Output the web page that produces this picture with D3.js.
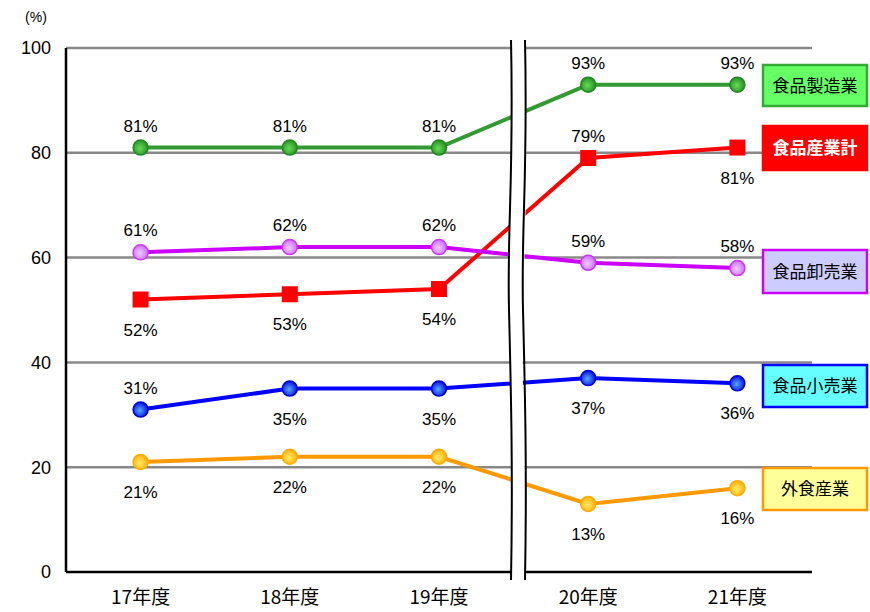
<!DOCTYPE html>
<html><head><meta charset="utf-8">
<script src="https://cdn.jsdelivr.net/npm/d3@7"></script>
<style>body{margin:0;background:#fff}svg{display:block}</style>
</head><body><svg id="c" width="870" height="612"></svg>
<script>
const categories = ["17年度","18年度","19年度","20年度","21年度"];
const seriesNames = ["食品製造業","食品産業計","食品卸売業","食品小売業","外食産業"];
const manufacturing = [81,81,81,93,93];
const total = [52,53,54,79,81];
const wholesale = [61,62,62,59,58];
const retail = [31,35,35,37,36];
const foodService = [21,22,22,13,16];
// label placement: 1 = above, -1 = below
const manufacturingPos = [1,1,1,1,1];
const totalPos = [-1,-1,-1,1,-1];
const wholesalePos = [1,1,1,1,1];
const retailPos = [1,-1,-1,-1,-1];
const foodServicePos = [-1,-1,-1,-1,-1];
const yTicks = [0,20,40,60,80,100];

const series = [
  {name:seriesNames[0], values:manufacturing, pos:manufacturingPos, color:"#339933", light:"#66dd55", dark:"#228822", marker:"circle", box:{y:65,h:41,fill:"#66ff66",stroke:"#33aa33",text:"#000",bold:false}},
  {name:seriesNames[1], values:total, pos:totalPos, color:"#ff0000", marker:"square", box:{y:126,h:44,fill:"#ff0000",stroke:"#ff0000",text:"#fff",bold:true}},
  {name:seriesNames[2], values:wholesale, pos:wholesalePos, color:"#cc00ff", light:"#f0ccff", dark:"#cc66ff", marker:"circle", box:{y:250,h:43,fill:"#ccccff",stroke:"#cc00ff",text:"#000",bold:false}},
  {name:seriesNames[3], values:retail, pos:retailPos, color:"#0000ff", light:"#55aaff", dark:"#0000dd", marker:"circle", box:{y:365,h:42,fill:"#66ffff",stroke:"#0000ff",text:"#000",bold:false}},
  {name:seriesNames[4], values:foodService, pos:foodServicePos, color:"#ff9900", light:"#ffee66", dark:"#ffaa00", marker:"circle", box:{y:468,h:42,fill:"#ffff99",stroke:"#ff9900",text:"#000",bold:false}}
];

const svg = d3.select("#c");
const L=66, R=812, T=48, B=572;
const x = d3.scalePoint().domain(categories).range([L,R]).padding(0.5);
const y = d3.scaleLinear().domain([0,100]).range([B,T]);

const defs = svg.append("defs");
series.forEach((s,i)=>{
  if(s.marker!=="circle") return;
  const g = defs.append("radialGradient").attr("id","g"+i).attr("cx","45%").attr("cy","55%").attr("r","60%");
  g.append("stop").attr("offset","0%").attr("stop-color",s.light);
  g.append("stop").attr("offset","100%").attr("stop-color",s.dark);
});

// gridlines
svg.append("g").selectAll("line").data(yTicks.filter(d=>d>0)).join("line")
  .attr("x1",L).attr("x2",R).attr("y1",d=>y(d)).attr("y2",d=>y(d))
  .attr("stroke","#888").attr("stroke-width",2.5);

// axes
svg.append("line").attr("x1",L).attr("x2",L).attr("y1",T).attr("y2",B).attr("stroke","#000").attr("stroke-width",2.5);
svg.append("line").attr("x1",L).attr("x2",R).attr("y1",B).attr("y2",B).attr("stroke","#000").attr("stroke-width",2.5);

svg.append("g").selectAll("text").data(yTicks).join("text")
  .attr("x",51).attr("y",d=>y(d)).attr("dy","0.36em").attr("text-anchor","end")
  .attr("font-family","Liberation Sans, Arial, sans-serif").attr("font-size",18).text(d=>d);
svg.append("text").attr("x",36).attr("y",22).attr("text-anchor","middle")
  .attr("font-family","Liberation Sans, Arial, sans-serif").attr("font-size",14).text("(%)");

svg.append("g").selectAll("text").data(categories).join("text")
  .attr("x",d=>x(d)).attr("y",604).attr("text-anchor","middle")
  .attr("font-family","Noto Sans CJK JP, sans-serif").attr("font-size",19).text(d=>d);

// lines
const line = d3.line().x((d,i)=>x(categories[i])).y(d=>y(d));
series.forEach(s=>{
  svg.append("path").attr("d",line(s.values)).attr("fill","none")
    .attr("stroke",s.color).attr("stroke-width",4);
});

// break
const bx1=511, bx2=525, by1=40, by2=580;
function wave(x0){
  const h=(by2-by1);
  return `M${x0},${by1} C${x0+3},${by1+h*0.25} ${x0-4},${by1+h*0.35} ${x0-2},${by1+h*0.5} S${x0+2},${by1+h*0.8} ${x0},${by2}`;
}
const p1 = wave(bx1), p2 = wave(bx2);
const h=(by2-by1);
svg.append("path").attr("d", p1 + ` L${bx2},${by2} C${bx2+2},${by1+h*0.8} ${bx2-4},${by1+h*0.65} ${bx2-2},${by1+h*0.5} S${bx2+3},${by1+h*0.25} ${bx2},${by1} Z`)
  .attr("fill","#fff").attr("stroke","none");
svg.append("path").attr("d",p1).attr("fill","none").attr("stroke","#000").attr("stroke-width",2);
svg.append("path").attr("d",p2).attr("fill","none").attr("stroke","#000").attr("stroke-width",2);

// markers + labels
series.forEach((s,i)=>{
  const g = svg.append("g");
  if(s.marker==="circle"){
    g.selectAll("circle").data(s.values).join("circle")
      .attr("cx",(d,j)=>x(categories[j])).attr("cy",d=>y(d)).attr("r",7.5)
      .attr("fill",`url(#g${i})`).attr("stroke",s.color===("#cc00ff")?"#cc33ff":s.dark).attr("stroke-width",1.5);
  } else {
    g.selectAll("rect").data(s.values).join("rect")
      .attr("x",(d,j)=>x(categories[j])-8).attr("y",d=>y(d)-8).attr("width",16).attr("height",16)
      .attr("fill",s.color);
  }
  g.selectAll("text").data(s.values).join("text")
    .attr("x",(d,j)=>x(categories[j])).attr("y",(d,j)=>y(d)+(s.pos[j]>0?-16:36))
    .attr("text-anchor","middle").attr("font-family","Liberation Sans, Arial, sans-serif").attr("font-size",17)
    .text(d=>d+"%");
  // legend box
  const b=s.box;
  svg.append("rect").attr("x",763).attr("y",b.y).attr("width",104).attr("height",b.h)
    .attr("fill",b.fill).attr("stroke",b.stroke).attr("stroke-width",2.5);
  svg.append("text").attr("x",815).attr("y",b.y+b.h/2).attr("dy","0.36em").attr("text-anchor","middle")
    .attr("font-family","Noto Sans CJK JP, sans-serif").attr("font-size",17)
    .attr("font-weight",b.bold?"bold":"normal").attr("fill",b.text).text(s.name);
});
</script></body></html>
